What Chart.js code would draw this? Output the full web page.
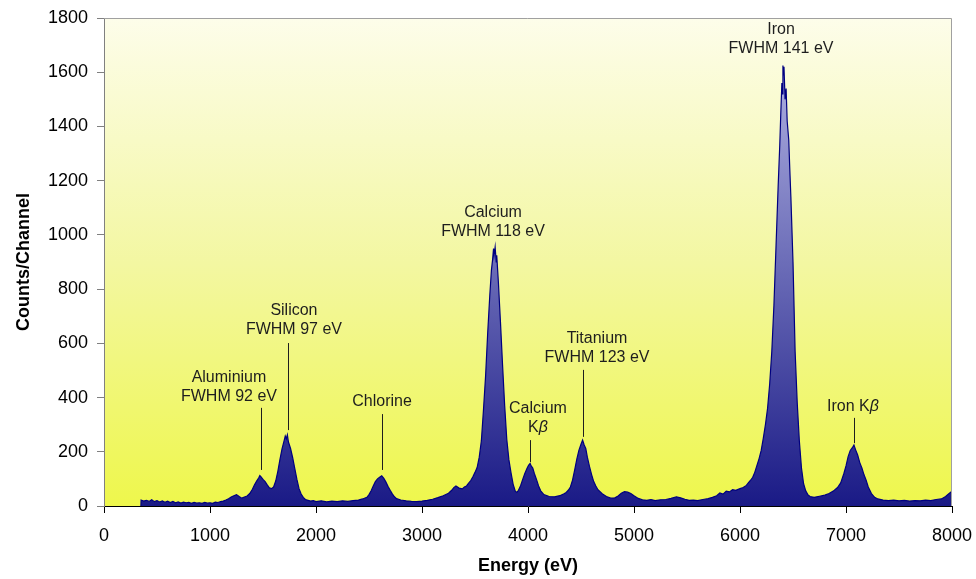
<!DOCTYPE html>
<html>
<head>
<meta charset="utf-8">
<script src="https://cdn.jsdelivr.net/npm/chart.js@4.4.1/dist/chart.umd.min.js"></script>
<style>
  html, body { margin: 0; padding: 0; background: #ffffff; }
  canvas { display: block; }
</style>
</head>
<body>
<canvas id="spectrum" width="976" height="579"></canvas>
<script>
// Energy of each channel sample (eV)
var energy = [
  348, 350, 375, 400, 425, 450, 475, 500, 525, 550, 575, 600, 625, 650, 675, 700, 725, 750, 775, 800,
  825, 850, 875, 900, 925, 950, 975, 1000, 1025, 1050, 1075, 1100, 1125, 1150, 1175, 1200, 1225, 1250, 1275, 1300,
  1325, 1350, 1375, 1400, 1420, 1440, 1460, 1470, 1480, 1500, 1520, 1540, 1560, 1580, 1600, 1620, 1640, 1660, 1680, 1700,
  1710, 1720, 1730, 1740, 1760, 1780, 1800, 1820, 1840, 1860, 1880, 1900, 1925, 1950, 1975, 2000, 2050, 2100, 2150, 2200,
  2250, 2300, 2350, 2400, 2440, 2480, 2500, 2520, 2540, 2560, 2580, 2600, 2620, 2640, 2660, 2680, 2700, 2720, 2740, 2760,
  2800, 2850, 2900, 2950, 3000, 3050, 3100, 3150, 3200, 3250, 3280, 3300, 3320, 3350, 3380, 3400, 3420, 3440, 3460, 3480,
  3500, 3520, 3540, 3560, 3580, 3600, 3620, 3640, 3655, 3665, 3675, 3680, 3690, 3700, 3705, 3720, 3740, 3760, 3780, 3800,
  3820, 3840, 3860, 3880, 3895, 3910, 3930, 3950, 3970, 3990, 4005, 4020, 4030, 4045, 4060, 4080, 4100, 4120, 4150, 4200,
  4250, 4300, 4340, 4360, 4380, 4400, 4420, 4440, 4460, 4480, 4500, 4515, 4530, 4545, 4560, 4580, 4600, 4620, 4640, 4660,
  4700, 4740, 4780, 4820, 4850, 4880, 4910, 4940, 4970, 5000, 5040, 5080, 5120, 5160, 5200, 5250, 5300, 5350, 5400, 5440,
  5480, 5520, 5560, 5600, 5650, 5700, 5740, 5780, 5810, 5840, 5870, 5900, 5930, 5960, 6000, 6030, 6060, 6080, 6100, 6120,
  6140, 6160, 6180, 6200, 6220, 6240, 6260, 6280, 6300, 6320, 6340, 6360, 6375, 6385, 6395, 6400, 6405, 6410, 6415, 6425,
  6435, 6445, 6460, 6470, 6480, 6500, 6520, 6540, 6560, 6580, 6600, 6620, 6640, 6660, 6700, 6750, 6800, 6840, 6880, 6920,
  6950, 6980, 7000, 7020, 7040, 7060, 7075, 7090, 7110, 7130, 7150, 7170, 7190, 7210, 7240, 7270, 7300, 7350, 7400, 7450,
  7500, 7550, 7600, 7650, 7700, 7750, 7800, 7850, 7900, 7940, 7970, 8000
];

// Counts per channel at those energies
var counts = [
  0, 22, 18, 21, 17, 23, 16, 20, 15, 19, 14, 18, 13, 17, 12, 15, 11, 14, 12, 13,
  10, 13, 11, 12, 10, 13, 11, 12, 10, 14, 13, 16, 18, 22, 27, 33, 38, 42, 35, 29,
  33, 37, 46, 62, 78, 92, 104, 112, 108, 98, 90, 78, 67, 64, 70, 92, 128, 172, 212, 242,
  258, 248, 262, 236, 212, 178, 138, 98, 64, 44, 32, 24, 21, 18, 20, 16, 19, 15, 18, 16,
  19, 17, 20, 22, 26, 32, 42, 56, 74, 90, 100, 106, 111, 102, 88, 72, 58, 45, 34, 27,
  22, 19, 17, 16, 18, 21, 25, 31, 38, 47, 58, 68, 74, 66, 63, 70, 74, 84, 94, 108,
  124, 142, 180, 240, 355, 480, 640, 780, 870, 905, 950, 925, 955, 900, 925, 830, 680, 520, 370, 245,
  170, 122, 80, 55, 50, 58, 75, 98, 120, 138, 150, 157, 148, 140, 120, 98, 74, 56, 42, 35,
  34, 38, 45, 50, 58, 70, 95, 132, 172, 205, 228, 243, 225, 212, 180, 146, 116, 90, 74, 60,
  45, 35, 29, 30, 37, 47, 53, 51, 46, 38, 28, 23, 21, 24, 20, 23, 24, 28, 34, 30,
  25, 21, 22, 20, 24, 27, 32, 38, 48, 44, 55, 52, 60, 58, 64, 68, 76, 86, 95, 106,
  125, 150, 175, 205, 250, 300, 360, 450, 570, 740, 960, 1180, 1330, 1450, 1560, 1520, 1625, 1590, 1620, 1500,
  1540, 1420, 1350, 1240, 1140, 900, 570, 380, 240, 140, 82, 56, 42, 35, 32, 36, 40, 46, 55, 68,
  85, 120, 148, 182, 205, 215, 225, 208, 188, 160, 140, 115, 95, 70, 46, 32, 26, 22, 20, 22,
  19, 21, 18, 20, 19, 22, 20, 24, 26, 35, 45, 55
];

// Axis ticks
var xTicks = [0, 1000, 2000, 3000, 4000, 5000, 6000, 7000, 8000];
var yTicks = [0, 200, 400, 600, 800, 1000, 1200, 1400, 1600, 1800];

// Peak labels: text lines, label centre (energy, counts of first line), leader line (energy, from, to)
var peakNotes = [
  { lines: ['Aluminium', 'FWHM 92 eV'], x: 1179, y: 472, lead: [1478, 362, 133] },
  { lines: ['Silicon', 'FWHM 97 eV'], x: 1792, y: 719, lead: [1732, 601, 280] },
  { lines: ['Chlorine'], x: 2623, y: 384, lead: [2620, 339, 133] },
  { lines: ['Calcium', 'FWHM 118 eV'], x: 3670, y: 1084, lead: null },
  { lines: ['Calcium', 'Kβ'], x: 4094, y: 358, lead: [4019, 243, 162] },
  { lines: ['Titanium', 'FWHM 123 eV'], x: 4651, y: 616, lead: [4519, 502, 255] },
  { lines: ['Iron', 'FWHM 141 eV'], x: 6387, y: 1756, lead: null },
  { lines: ['Iron Kβ'], x: 7066, y: 365, lead: [7075, 325, 232] }
];

var FONT = '"Liberation Sans", Arial, sans-serif';

var points = energy.map(function(e, i) { return { x: e, y: counts[i] }; });

// draw a label line, with β in italics
function drawNoteLine(ctx, text, cx, cy) {
  var parts = text.split('β');
  ctx.font = '16px ' + FONT;
  var w1 = ctx.measureText(parts[0]).width;
  var w2 = 0;
  if (parts.length > 1) {
    ctx.font = 'italic 16px ' + FONT;
    w2 = ctx.measureText('β').width;
  }
  var x0 = cx - (w1 + w2) / 2;
  ctx.textAlign = 'left';
  ctx.textBaseline = 'middle';
  ctx.font = '16px ' + FONT;
  ctx.fillText(parts[0], x0, cy);
  if (parts.length > 1) {
    ctx.font = 'italic 16px ' + FONT;
    ctx.fillText('β', x0 + w1, cy);
  }
}

var plotBackground = {
  id: 'plotBackground',
  beforeDraw: function(chart) {
    var a = chart.chartArea, ctx = chart.ctx;
    var g = ctx.createLinearGradient(0, a.top, 0, a.bottom);
    g.addColorStop(0, '#fdfdea');
    g.addColorStop(0.5, '#f3f7a2');
    g.addColorStop(1, '#eef74c');
    ctx.save();
    ctx.fillStyle = g;
    ctx.fillRect(a.left, a.top, a.right - a.left, a.bottom - a.top);
    ctx.restore();
  },
  afterDatasetsDraw: function(chart) {
    var a = chart.chartArea, ctx = chart.ctx;
    ctx.save();
    ctx.strokeStyle = '#a0a0a0';
    ctx.lineWidth = 1;
    ctx.beginPath();
    ctx.moveTo(a.left, a.top + 0.5);
    ctx.lineTo(a.right - 0.5, a.top + 0.5);
    ctx.lineTo(a.right - 0.5, a.bottom);
    ctx.stroke();
    ctx.restore();
  }
};

var peakLabels = {
  id: 'peakLabels',
  afterDatasetsDraw: function(chart) {
    var xs = chart.scales.x, ys = chart.scales.y, ctx = chart.ctx;
    ctx.save();
    ctx.fillStyle = '#1e1e1e';
    ctx.strokeStyle = '#1e1e1e';
    ctx.lineWidth = 1;
    peakNotes.forEach(function(n) {
      var cx = xs.getPixelForValue(n.x);
      var cy = ys.getPixelForValue(n.y);
      n.lines.forEach(function(t, i) {
        drawNoteLine(ctx, t, cx, cy + i * 19);
      });
      if (n.lead) {
        var lx = Math.round(xs.getPixelForValue(n.lead[0])) + 0.5;
        ctx.beginPath();
        ctx.moveTo(lx, ys.getPixelForValue(n.lead[1]));
        ctx.lineTo(lx, ys.getPixelForValue(n.lead[2]));
        ctx.stroke();
      }
    });
    ctx.restore();
  }
};

var ctx = document.getElementById('spectrum').getContext('2d');

var spectrumChart = new Chart(ctx, {
  type: 'line',
  data: {
    datasets: [{
      data: points,
      borderColor: '#000080',
      borderWidth: 1.2,
      pointRadius: 0,
      tension: 0,
      fill: 'origin',
      backgroundColor: function(context) {
        var a = context.chart.chartArea;
        if (!a) return '#303090';
        var g = context.chart.ctx.createLinearGradient(0, a.top, 0, a.bottom);
        g.addColorStop(0, '#bec0ea');
        g.addColorStop(1, '#1a1a86');
        return g;
      }
    }]
  },
  options: {
    responsive: false,
    animation: false,
    devicePixelRatio: 1,
    layout: { padding: { top: 18, right: 24, left: 0, bottom: 0 } },
    plugins: {
      legend: { display: false },
      tooltip: { enabled: false }
    },
    scales: {
      x: {
        type: 'linear',
        min: 0,
        max: 8000,
        afterBuildTicks: function(scale) {
          scale.ticks = xTicks.map(function(v) { return { value: v }; });
        },
        afterFit: function(scale) {
          scale.height = 73;
          scale.paddingLeft = 0;
          scale.paddingRight = 0;
        },
        grid: { display: true, drawOnChartArea: false, tickLength: 7, color: '#000000' },
        border: { color: '#000000', width: 1 },
        ticks: {
          color: '#000000', padding: 12, maxRotation: 0,
          font: { family: FONT, size: 18 },
          callback: function(v) { return String(v); }
        },
        title: {
          display: true,
          text: 'Energy (eV)',
          color: '#000000',
          padding: { top: 0, bottom: 2 },
          font: { family: FONT, size: 18, weight: 'bold' }
        }
      },
      y: {
        min: 0,
        max: 1800,
        afterBuildTicks: function(scale) {
          scale.ticks = yTicks.map(function(v) { return { value: v }; });
        },
        afterFit: function(scale) {
          scale.width = 104;
          scale.paddingTop = 0;
          scale.paddingBottom = 0;
        },
        grid: { display: true, drawOnChartArea: false, tickLength: 7, color: '#808080' },
        border: { color: '#808080', width: 1 },
        ticks: {
          color: '#000000', padding: 9,
          font: { family: FONT, size: 18 },
          callback: function(v) { return String(v); }
        },
        title: {
          display: true,
          text: 'Counts/Channel',
          color: '#000000',
          padding: { top: 13, bottom: 0 },
          font: { family: FONT, size: 18, weight: 'bold' }
        }
      }
    }
  },
  plugins: [plotBackground, peakLabels]
});
</script>
</body>
</html>
